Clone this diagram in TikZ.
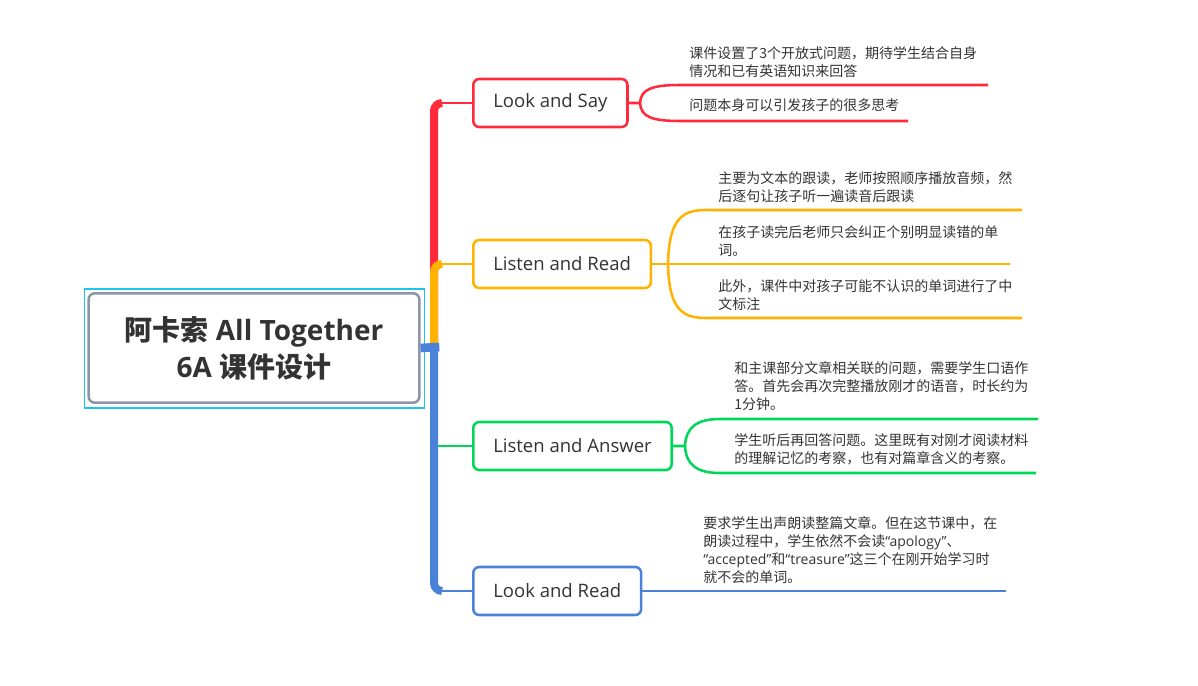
\documentclass[tikz,border=0pt]{standalone}
\usepackage{fontspec}
\setmainfont{Open Sans}
\newfontfamily\cjk{Noto Sans CJK SC}
\newfontfamily\latin{Open Sans}
\usetikzlibrary{positioning}
\definecolor{mred}{RGB}{255,42,60}
\definecolor{morange}{RGB}{255,179,0}
\definecolor{mgreen}{RGB}{0,214,90}
\definecolor{mblue}{RGB}{74,130,218}
\definecolor{mcyan}{RGB}{30,195,240}
\definecolor{mgrey}{RGB}{140,150,168}
\definecolor{mtext}{RGB}{51,51,51}
\tikzset{topic/.style = {draw, fill=white, rounded corners=4.5pt, line width=1.9pt,
                         minimum height=36pt, inner xsep=15pt, text=mtext, anchor=west,
                         font=\fontsize{13.9}{16}\selectfont},
         note/.style = {align=left, anchor=west, inner sep=0pt, text=mtext,
                        font=\cjk\fontsize{10.5}{13.5}\selectfont},
         trunk/.style = {line width=6pt, rounded corners=6pt},
         twig/.style = {line width=1.9pt}}

\begin{document}
\begin{tikzpicture}[x=0.75pt, y=-0.75pt]
      \useasboundingbox (0,0) rectangle (1198,685);

      \node [draw=mgrey, line width=1.9pt, rounded corners=4.5pt, minimum width=248pt, minimum height=82pt,
             align=center, text=mtext, font=\bfseries\fontsize{21}{27.75}\selectfont]
            (root) at (254,348) {{\cjk 阿卡索} All Together\\6A {\cjk 课件设计}};
      \draw [mcyan, line width=1.1pt] ([shift={(-3,-3)}]root.north west) rectangle ([shift={(4,4)}]root.south east);

      \coordinate (hub) at (434,347);

      \node [topic, draw=mred] (say) at (472,103) {Look and Say};
      \node [topic, draw=morange] (read) at (472,264) {Listen and Read};
      \node [topic, draw=mgreen] (answer) at (472,446) {Listen and Answer};
      \node [topic, draw=mblue] (lookread) at (472,591) {Look and Read};

      \draw [trunk, mred] (hub) |- (442,103);
      \draw [twig, mred] (434,103) -- (say.west);
      \draw [trunk, morange] (hub) |- (442,264);
      \draw [twig, morange] (434,264) -- (read.west);
      \draw [twig, mgreen] (434,446) -- (answer.west);
      \draw [trunk, mblue] (hub) |- (442,591);
      \draw [twig, mblue] (434,591) -- (lookread.west);
      \draw [line width=6.5pt, mblue] (root.east) -- ([xshift=4]hub);

      \coordinate (sayfork) at (640,103);
      \coordinate (sayend1) at (988,85);
      \coordinate (sayend2) at (908,121);
      \draw [twig, mred] (say.east) -- (sayfork) .. controls (641,89) and (652,85) .. (680,85) -- (sayend1);
      \draw [twig, mred] (sayfork) .. controls (641,117) and (652,121) .. (680,121) -- (sayend2);
      \node [note] (saynote1) at (689,62) {课件设置了3个开放式问题，期待学生结合自身\\情况和已有英语知识来回答};
      \node [note] (saynote2) at (689,105) {问题本身可以引发孩子的很多思考};

      \coordinate (readfork) at (668,264);
      \coordinate (readend1) at (1022,210);
      \coordinate (readend2) at (1010,264);
      \coordinate (readend3) at (1022,318);
      \draw [twig, morange] (read.east) -- (readfork) -- (readend2);
      \draw [twig, morange] (readfork) .. controls (669,222) and (680,210) .. (705,210) -- (readend1);
      \draw [twig, morange] (readfork) .. controls (669,306) and (680,318) .. (705,318) -- (readend3);
      \node [note] (readnote1) at (718,187) {主要为文本的跟读，老师按照顺序播放音频，然\\后逐句让孩子听一遍读音后跟读};
      \node [note] (readnote2) at (718,241) {在孩子读完后老师只会纠正个别明显读错的单\\词。};
      \node [note] (readnote3) at (718,295) {此外，课件中对孩子可能不认识的单词进行了中\\文标注};

      \coordinate (answerfork) at (685,446);
      \coordinate (answerend1) at (1038,419);
      \coordinate (answerend2) at (1036,473);
      \draw [twig, mgreen] (answer.east) -- (answerfork) .. controls (686,427) and (697,419) .. (720,419) -- (answerend1);
      \draw [twig, mgreen] (answerfork) .. controls (686,465) and (697,473) .. (720,473) -- (answerend2);
      \node [note] (answernote1) at (734,386) {和主课部分文章相关联的问题，需要学生口语作\\答。首先会再次完整播放刚才的语音，时长约为\\1分钟。};
      \node [note] (answernote2) at (734,449) {学生听后再回答问题。这里既有对刚才阅读材料\\的理解记忆的考察，也有对篇章含义的考察。};

      \coordinate (lookreadend) at (1006,591);
      \draw [twig, mblue] (lookread.east) -- (lookreadend);
      \node [note] (lookreadnote) at (703,550) {要求学生出声朗读整篇文章。但在这节课中，在\\朗读过程中，学生依然不会读{\latin “apology”}、\\{\latin “accepted”}和{\latin “treasure”}这三个在刚开始学习时\\就不会的单词。};
    \end{tikzpicture}
\end{document}
